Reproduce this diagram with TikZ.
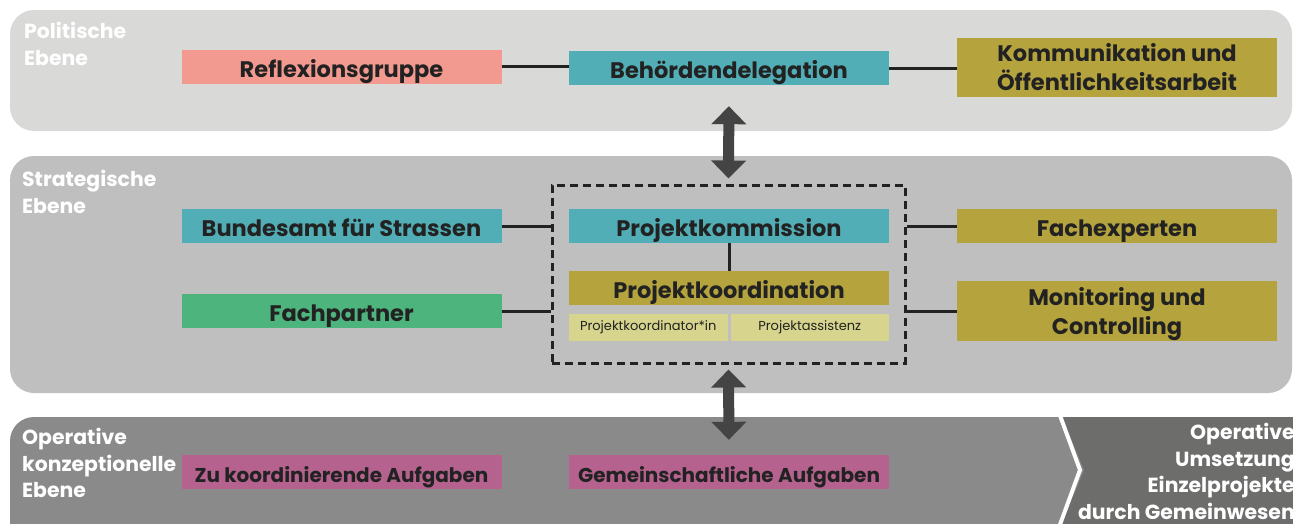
\documentclass[tikz,border=0pt]{standalone}
\usepackage{fontspec}
\setmainfont{Poppins}
\usetikzlibrary{positioning,arrows.meta}
\definecolor{politgray}{HTML}{D9DAD7}
\definecolor{stratgray}{HTML}{BFBFBF}
\definecolor{opgray}{HTML}{8A8A8A}
\definecolor{umsgray}{HTML}{6D6E6C}
\definecolor{salmon}{HTML}{F29A8F}
\definecolor{teal}{HTML}{52AEB6}
\definecolor{olive}{HTML}{B5A43E}
\definecolor{leaf}{HTML}{4DB47E}
\definecolor{pale}{HTML}{D6D48D}
\definecolor{plum}{HTML}{B5628F}
\definecolor{ink}{HTML}{222222}
\definecolor{arrowgray}{HTML}{444444}
\tikzset{%
band/.style={rounded corners=24pt},
ebene/.style={anchor=north west, align=left, text=white, inner sep=0pt, font=\fontsize{20.4}{26.5}\selectfont\bfseries},
kasten/.style={minimum width=320pt, minimum height=34pt, inner sep=0pt, align=center, text=ink, font=\fontsize{22.5}{29}\selectfont\bfseries},
box/.style={kasten, text height=23.5pt, text depth=2.5pt},
subbox/.style={minimum width=158.5pt, minimum height=27pt, inner sep=0pt, fill=pale, text=ink, font=\fontsize{13}{15}\selectfont},
link/.style={draw=ink, line width=3pt},
pfeil/.style={draw=arrowgray, line width=11pt, {Triangle[width=34pt,length=18pt]}-{Triangle[width=34pt,length=18pt]}}
}

\begin{document}
\begin{tikzpicture}[x=1pt,y=-1pt]
	\useasboundingbox (0,0) rectangle (1293,523);
	\clip (0,0) rectangle (1293,523);
	% Ebenen
	\fill[politgray, band] (10,10) rectangle (1292,131);
	\fill[stratgray, band] (10,156) rectangle (1292,393);
	\fill[opgray, band] (10,417) rectangle (1330,560);
	\fill[umsgray, rounded corners=24pt] (1062,417) -- (1330,417) -- (1330,560) -- (1062,560) [sharp corners] -- (1062,523) -- (1084,470) -- cycle;
	\draw[white, line width=4pt] (1058,410) -- (1080,470) -- (1058,530);
	\node[ebene] (polit) at (24,22) {Politische\\Ebene};
	\node[ebene] (strat) at (22,170) {Strategische\\Ebene};
	\node[ebene] (oper) at (22,428) {Operative\\konzeptionelle\\Ebene};
	\node[ebene, anchor=north east, align=right] (umsetz) at (1295,423) {Operative\\Umsetzung\\Einzelprojekte\\durch Gemeinwesen};

	% politische Ebene
	\node[box, fill=salmon] (reflexion) at (341.5,66.5) {Reflexionsgruppe};
	\node[box, fill=teal] (behoerde) at (729,68) {Behördendelegation};
	\node[kasten, fill=olive, minimum height=59pt] (kommunikation) at (1117,67.5) {Kommunikation und\\Öffentlichkeitsarbeit};

	% strategische Ebene
	\node[draw=ink, line width=3pt, dash pattern=on 8pt off 5pt, minimum width=353pt, minimum height=178pt] (kern) at (728.5,274) {};
	\node[box, fill=teal] (kommission) at (729,226) {Projektkommission};
	\node[box, fill=olive] (koordination) [below=28pt of kommission] {Projektkoordination};
	\node[subbox] (koordinatorin) [below right=8pt and 0pt of koordination.south west] {Projektkoordinator*in};
	\node[subbox] (assistenz) [below left=8pt and 0pt of koordination.south east] {Projektassistenz};
	\node[box, fill=teal] (bundesamt) at (341.5,226) {Bundesamt für Strassen};
	\node[box, fill=leaf] (fachpartner) [below=51pt of bundesamt] {Fachpartner};
	\node[box, fill=olive] (fachexperten) at (1117,226) {Fachexperten};
	\node[kasten, fill=olive, minimum height=58pt] (monitoring) at (1117,311) {\rule{0pt}{24pt}Monitoring und\\Controlling};

	% operative Ebene
	\node[box, fill=plum, font=\fontsize{20}{26}\selectfont\bfseries] (zuko) at (341.5,472) {Zu koordinierende Aufgaben};
	\node[box, fill=plum, font=\fontsize{20}{26}\selectfont\bfseries] (gemein) at (729,472) {Gemeinschaftliche Aufgaben};

	% Verbindungen
	\path[link] (reflexion.east) -- (reflexion.east -| behoerde.west);
	\path[link] (behoerde.east) -- (behoerde.east -| kommunikation.west);
	\path[link] (bundesamt.east) -- (bundesamt.east -| kern.west);
	\path[link] (fachpartner.east) -- (fachpartner.east -| kern.west);
	\path[link] (fachexperten.west) -- (fachexperten.west -| kern.east);
	\path[link] (monitoring.west) -- (monitoring.west -| kern.east);
	\path[link] (kommission) -- (koordination);
	\path[pfeil, shorten <=21pt, shorten >=5pt] (behoerde.south) -- (kern.north);
	\path[pfeil, shorten <=5pt, shorten >=15pt] (kern.south) -- (gemein.north);
\end{tikzpicture}
\end{document}
